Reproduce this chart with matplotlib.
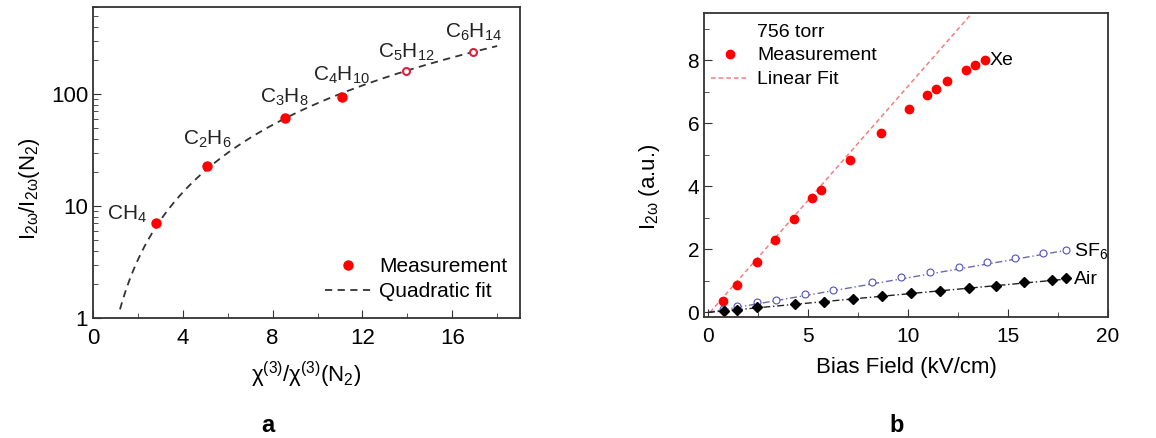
import numpy as np
import matplotlib
matplotlib.use("Agg")
import matplotlib.pyplot as plt
from matplotlib.lines import Line2D

plt.rcParams['font.family'] = ['Liberation Sans', 'DejaVu Sans']
plt.rcParams['mathtext.fontset'] = 'custom'
plt.rcParams['mathtext.rm'] = 'Liberation Sans'
plt.rcParams['mathtext.it'] = 'Liberation Sans'

# panel a
molecules = ['CH$_4$', 'C$_2$H$_6$', 'C$_3$H$_8$', 'C$_4$H$_{10}$', 'C$_5$H$_{12}$', 'C$_6$H$_{14}$']
chi_ratio = [2.8, 5.07, 8.53, 11.07, 13.95, 16.93]
i_ratio = [7.0, 23.0, 61.0, 94.0, 160.0, 237.0]
hollow = [False, False, False, False, True, True]
quad_coef = 0.83

# panel b
xe_field = [0.75, 1.47, 2.47, 3.37, 4.3, 5.22, 5.67, 7.12, 8.63, 10.05, 10.95, 11.42, 11.95, 12.88, 13.37, 13.83]
xe_int = [0.37, 0.88, 1.61, 2.3, 2.97, 3.63, 3.9, 4.84, 5.68, 6.46, 6.89, 7.08, 7.33, 7.71, 7.86, 8.01]
sf6_field = [0.75, 1.47, 2.47, 3.42, 4.83, 6.25, 8.22, 9.67, 11.08, 12.55, 13.97, 15.33, 16.75, 17.92]
sf6_int = [0.12, 0.21, 0.32, 0.40, 0.58, 0.72, 0.95, 1.11, 1.27, 1.43, 1.59, 1.73, 1.89, 1.98]
air_field = [0.8, 1.47, 2.47, 4.37, 5.8, 7.25, 8.72, 10.17, 11.58, 13.03, 14.42, 15.8, 17.2, 17.92]
air_int = [0.05, 0.08, 0.16, 0.27, 0.34, 0.42, 0.52, 0.60, 0.69, 0.77, 0.85, 0.95, 1.03, 1.08]
xe_slope, xe_icpt = 0.725, -0.07
sf6_slope = 0.11
air_slope = 0.059

fig = plt.figure(figsize=(11.56, 4.38), dpi=100)
frame = '#333333'

# ---- a ----
ax1 = fig.add_axes([0.0805, 0.274, 0.369, 0.710])
xf = np.linspace(1.2, 18.0, 200)
ax1.plot(xf, quad_coef * xf**2, ls=(0, (4, 3)), color='#333333', lw=1.3, label='Quadratic fit')
for x, y, h in zip(chi_ratio, i_ratio, hollow):
    if h:
        ax1.plot(x, y, 'o', ms=5, mfc='white', mec='#e0203a', mew=1.5)
    else:
        ax1.plot(x, y, 'o', ms=6.5, color='red')
ax1.plot([], [], 'o', ms=6.5, color='red', label='Measurement')
offs = [(-9, 9, 'right'), (0, 26, 'center'), (0, 21, 'center'), (0, 22, 'center'),
        (0, 19, 'center'), (0, 20, 'center')]
for m, x, y, o in zip(molecules, chi_ratio, i_ratio, offs):
    ax1.annotate(m, (x, y), xytext=(o[0], o[1]), textcoords='offset pixels',
                 ha=o[2], va='center', fontsize=15, color='#222222')
ax1.set_yscale('log')
ax1.set_xlim(0, 19)
ax1.set_ylim(1, 600)
ax1.set_xticks([0, 4, 8, 12, 16])
ax1.set_xticks([2, 6, 10, 14, 18], minor=True)
ax1.set_yticks([1, 10, 100])
ax1.set_yticklabels(['1', '10', '100'])
ax1.set_xlabel('χ$^{(3)}$/χ$^{(3)}$(N$_2$)', fontsize=16, labelpad=8)
ax1.set_ylabel('I$_{2ω}$/I$_{2ω}$(N$_2$)', fontsize=16)
ax1.yaxis.set_label_coords(-0.119, 0.415)
h, l = ax1.get_legend_handles_labels()
ax1.legend(h[::-1], l[::-1], loc='lower right', frameon=False, fontsize=15,
           bbox_to_anchor=(1.015, -0.006), handlelength=2.25, handletextpad=0.35,
           labelspacing=0.3)

# ---- b ----
ax2 = fig.add_axes([0.609, 0.276, 0.3495, 0.694])
xl = np.linspace(0.1, 14, 100)
ax2.plot(xl, xe_slope * xl + xe_icpt, ls=(0, (3, 2)), color='#f08080', lw=1.1, label='Linear Fit')
xs = np.linspace(0.0, 18.0, 100)
ax2.plot(xs, sf6_slope * xs, ls=(0, (5, 2, 1, 2)), color='#6a6ab0', lw=1.0)
ax2.plot(xs, air_slope * xs, ls=(0, (5, 2, 1, 2)), color='#222222', lw=1.0)
ax2.plot(xe_field, xe_int, 'o', ms=6, color='red', ls='none', label='Measurement')
ax2.plot(sf6_field, sf6_int, 'o', ms=5, mfc='white', mec='#5050c0', mew=0.8, ls='none')
ax2.plot(air_field, air_int, 'D', ms=5.5, color='black', ls='none')
ax2.text(14.1, 8.0, 'Xe', fontsize=14, va='center')
ax2.text(18.3, 1.95, 'SF$_6$', fontsize=14, va='center')
ax2.text(18.3, 1.05, 'Air', fontsize=14, va='center')
ax2.set_xlim(-0.2, 20)
ax2.set_ylim(-0.15, 9.5)
ax2.set_xticks([0, 5, 10, 15, 20])
ax2.set_xticks([2.5, 7.5, 12.5, 17.5], minor=True)
ax2.set_yticks([0, 2, 4, 6, 8])
ax2.set_yticks([1, 3, 5, 7, 9], minor=True)
ax2.set_xlabel('Bias Field (kV/cm)', fontsize=16, labelpad=8)
ax2.set_ylabel('I$_{2ω}$ (a.u.)', fontsize=16)
ax2.yaxis.set_label_coords(-0.104, 0.43)
h, l = ax2.get_legend_handles_labels()
h = [Line2D([], [], ls='none')] + h[::-1]
l = ['756 torr'] + l[::-1]
ax2.legend(h, l, loc='upper left', frameon=False, fontsize=14,
           bbox_to_anchor=(-0.025, 1.025), handlelength=1.95, handletextpad=0.4,
           labelspacing=0.32)

for ax in (ax1, ax2):
    for s in ax.spines.values():
        s.set_color(frame)
        s.set_linewidth(1.3)
    ax.tick_params(which='both', direction='in', top=False, right=False, color=frame)
    ax.tick_params(axis='x', which='both', pad=7)
    ax.tick_params(which='major', length=6)
    ax.tick_params(which='minor', length=3.5)
ax1.tick_params(labelsize=16)
ax2.tick_params(labelsize=15)

fig.text(268 / 1156, 1 - 425 / 438, 'a', fontsize=17, fontweight='bold', ha='center', va='center')
fig.text(897 / 1156, 1 - 425 / 438, 'b', fontsize=17, fontweight='bold', ha='center', va='center')

fig.savefig('out.png', dpi=100)
